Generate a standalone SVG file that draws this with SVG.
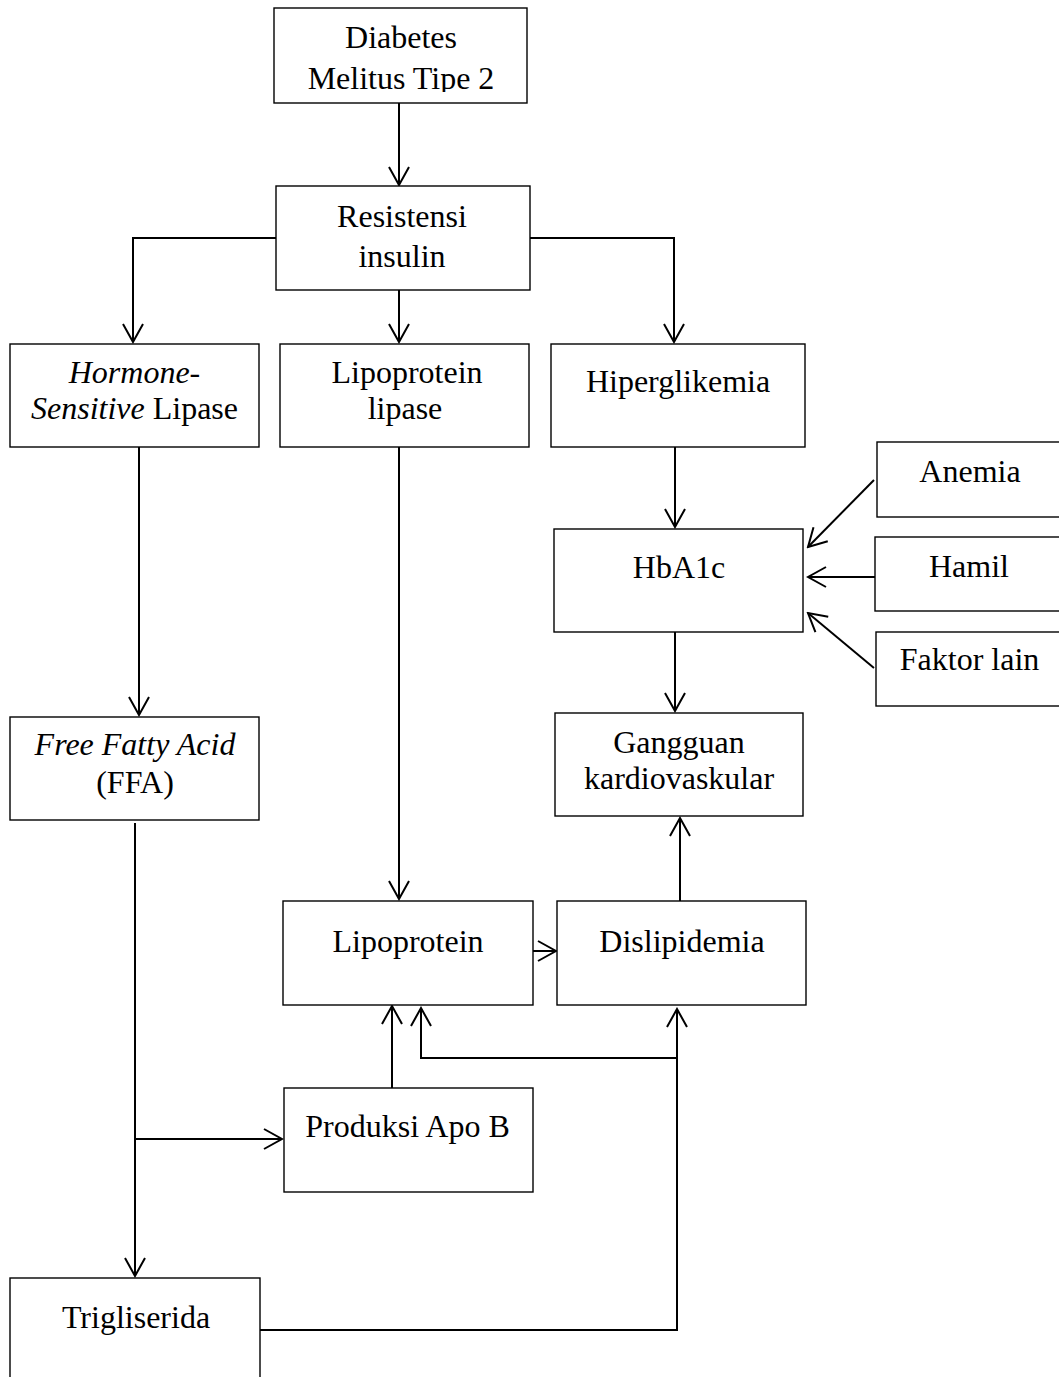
<svg xmlns="http://www.w3.org/2000/svg" width="1059" height="1377" viewBox="0 0 1059 1377">
<style>
.box{fill:#fff;stroke:#000;stroke-width:1.4}
.t{font-family:"Liberation Serif","Times New Roman",serif;font-size:32px;fill:#000;text-anchor:middle}
.i{font-style:italic}
.c{fill:none;stroke:#000;stroke-width:2}
</style>
<defs>
<marker id="arr" viewBox="-20 -12 22 24" refX="0" refY="0" markerWidth="22" markerHeight="24" orient="auto" markerUnits="userSpaceOnUse">
<path d="M-18,-10 L0,0 L-18,10" fill="none" stroke="#000" stroke-width="2"/>
</marker>
<clipPath id="clipDM"><rect x="274" y="8" width="253" height="84"/></clipPath>
</defs>
<rect width="1059" height="1377" fill="#fff"/>
<g id="connectors">
<path class="c" d="M399,103 V185" marker-end="url(#arr)"/>
<path class="c" d="M276,238 H133 V342" marker-end="url(#arr)"/>
<path class="c" d="M399,290 V342" marker-end="url(#arr)"/>
<path class="c" d="M530,238 H674 V342" marker-end="url(#arr)"/>
<path class="c" d="M139,447 V715" marker-end="url(#arr)"/>
<path class="c" d="M399,447 V899" marker-end="url(#arr)"/>
<path class="c" d="M675,447 V527" marker-end="url(#arr)"/>
<path class="c" d="M675,632 V711" marker-end="url(#arr)"/>
<path class="c" d="M874,480 L808,547" marker-end="url(#arr)"/>
<path class="c" d="M875,577 H808" marker-end="url(#arr)"/>
<path class="c" d="M874,668 L808,613" marker-end="url(#arr)"/>
<path class="c" d="M680,901 V818" marker-end="url(#arr)"/>
<path class="c" d="M533,951 H556" marker-end="url(#arr)"/>
<path class="c" d="M135,823 V1276" marker-end="url(#arr)"/>
<path class="c" d="M135,1139 H282" marker-end="url(#arr)"/>
<path class="c" d="M392,1088 V1006" marker-end="url(#arr)"/>
<path class="c" d="M260,1330 H677 V1009" marker-end="url(#arr)"/>
<path class="c" d="M677,1058 H421 V1008" marker-end="url(#arr)"/>
</g>
<g id="n-diabetes">
<rect class="box" x="274" y="8" width="253" height="95"/>
<g clip-path="url(#clipDM)">
<text class="t" x="401" y="48">Diabetes</text>
<text class="t" x="401" y="89">Melitus Tipe 2</text>
</g>
</g>
<g id="n-resistensi">
<rect class="box" x="276" y="186" width="254" height="104"/>
<text class="t" x="402" y="227">Resistensi</text>
<text class="t" x="402" y="267">insulin</text>
</g>
<g id="n-hsl">
<rect class="box" x="10" y="344" width="249" height="103"/>
<text class="t" x="134.5" y="383"><tspan class="i">Hormone</tspan>-</text>
<text class="t" x="134.5" y="419"><tspan class="i">Sensitive</tspan> Lipase</text>
</g>
<g id="n-lpl">
<rect class="box" x="280" y="344" width="249" height="103"/>
<text class="t" x="407" y="383">Lipoprotein</text>
<text class="t" x="405" y="419">lipase</text>
</g>
<g id="n-hiper">
<rect class="box" x="551" y="344" width="254" height="103"/>
<text class="t" x="678" y="392">Hiperglikemia</text>
</g>
<g id="n-anemia">
<rect class="box" x="877" y="442" width="200" height="75"/>
<text class="t" x="970" y="482">Anemia</text>
</g>
<g id="n-hba1c">
<rect class="box" x="554" y="529" width="249" height="103"/>
<text class="t" x="679" y="578">HbA1c</text>
</g>
<g id="n-hamil">
<rect class="box" x="875" y="537" width="200" height="74"/>
<text class="t" x="969" y="577">Hamil</text>
</g>
<g id="n-faktor">
<rect class="box" x="876" y="632" width="200" height="74"/>
<text class="t" x="969.5" y="670">Faktor lain</text>
</g>
<g id="n-ffa">
<rect class="box" x="10" y="717" width="249" height="103"/>
<text class="t i" x="135" y="755">Free Fatty Acid</text>
<text class="t" x="135" y="793">(FFA)</text>
</g>
<g id="n-gangguan">
<rect class="box" x="555" y="713" width="248" height="103"/>
<text class="t" x="679" y="753">Gangguan</text>
<text class="t" x="679" y="789">kardiovaskular</text>
</g>
<g id="n-lipoprotein">
<rect class="box" x="283" y="901" width="250" height="104"/>
<text class="t" x="408" y="952">Lipoprotein</text>
</g>
<g id="n-dislipidemia">
<rect class="box" x="557" y="901" width="249" height="104"/>
<text class="t" x="682" y="952">Dislipidemia</text>
</g>
<g id="n-apob">
<rect class="box" x="284" y="1088" width="249" height="104"/>
<text class="t" x="407.5" y="1137">Produksi Apo B</text>
</g>
<g id="n-tg">
<rect class="box" x="10" y="1278" width="250" height="120"/>
<text class="t" x="136" y="1328">Trigliserida</text>
</g>
</svg>
